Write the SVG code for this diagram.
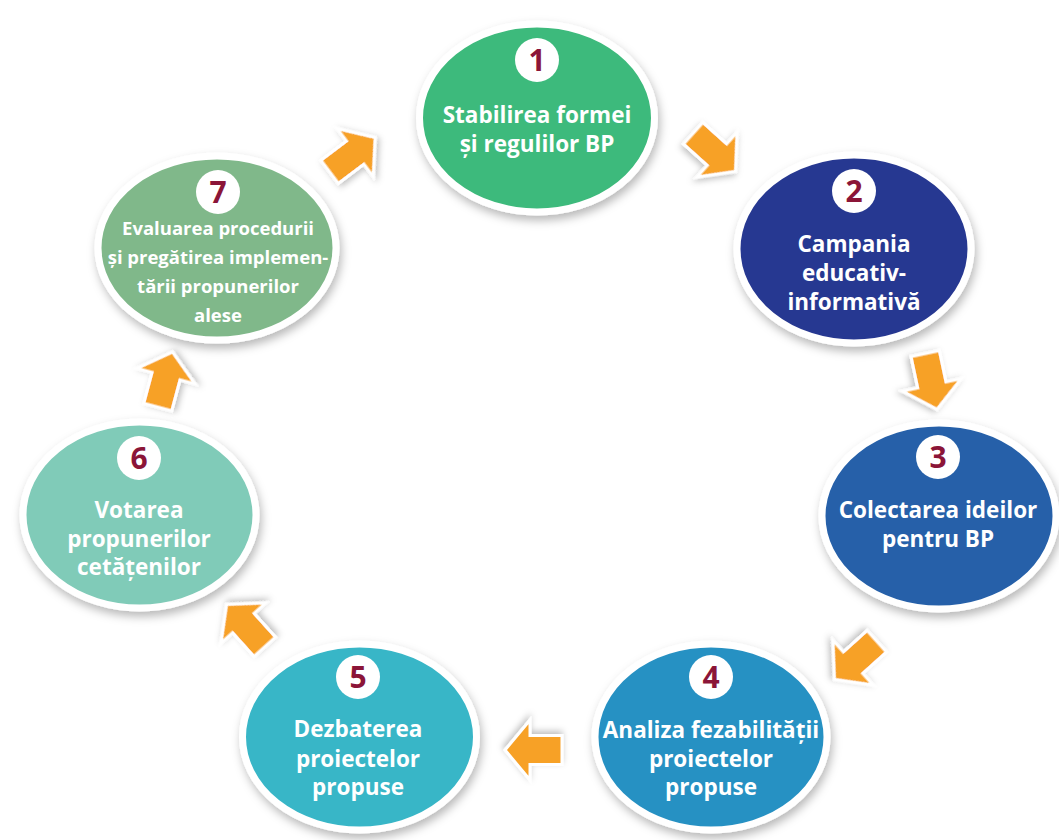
<svg xmlns="http://www.w3.org/2000/svg" width="1059" height="840" viewBox="0 0 1059 840">
<defs>
<filter id="sh" x="-20%" y="-20%" width="140%" height="150%">
<feDropShadow dx="2" dy="5" stdDeviation="5" flood-color="#000" flood-opacity="0.28"/>
</filter>
<filter id="ash" x="-40%" y="-40%" width="180%" height="180%">
<feDropShadow dx="1" dy="3" stdDeviation="3" flood-color="#000" flood-opacity="0.25"/>
</filter>
<path id="arr" d="M-28,-14.5 L4,-14.5 L4,-30 L29,0 L4,30 L4,14.5 L-28,14.5 Z"/>
</defs>
<style>
.ring{stroke:#fff;stroke-width:7;filter:url(#sh)}
.badge{fill:#fff}
.num{font-family:"Open Sans","Noto Sans",sans-serif;font-weight:700;font-size:30px;fill:#8b1538;text-anchor:middle}
.lbl{font-family:"Open Sans","Noto Sans",sans-serif;font-weight:700;font-size:22.5px;fill:#fff;text-anchor:middle}
.sm{font-size:18.5px}
.arrow{fill:#f7a128;stroke:#fff;stroke-width:3;stroke-linejoin:miter;filter:url(#ash)}
</style>
<rect width="1059" height="840" fill="#fff"/>

<g id="connectors">
<use href="#arr" class="arrow" transform="translate(352,155) rotate(-37)"/>
<use href="#arr" class="arrow" transform="translate(714,152) rotate(42)"/>
<use href="#arr" class="arrow" transform="translate(931,381) rotate(78)"/>
<use href="#arr" class="arrow" transform="translate(856,660) rotate(138)"/>
<use href="#arr" class="arrow" transform="translate(534,750) rotate(180)"/>
<use href="#arr" class="arrow" transform="translate(246,626) rotate(-132)"/>
<use href="#arr" class="arrow" transform="translate(165,380) rotate(-75)"/>
</g>

<g id="node1">
<ellipse class="ring" cx="537" cy="118" rx="117.5" ry="94" fill="#3dba7b"/>
<circle class="badge" cx="537" cy="60" r="22"/>
<text class="num" x="537" y="71">1</text>
<text class="lbl" x="537" y="123">Stabilirea formei</text>
<text class="lbl" x="537" y="152">și regulilor BP</text>
</g>

<g id="node2">
<ellipse class="ring" cx="854" cy="249" rx="117" ry="94" fill="#283891"/>
<circle class="badge" cx="854" cy="191" r="22"/>
<text class="num" x="854" y="202">2</text>
<text class="lbl" x="854" y="252">Campania</text>
<text class="lbl" x="854" y="281">educativ-</text>
<text class="lbl" x="854" y="310">informativă</text>
</g>

<g id="node3">
<ellipse class="ring" cx="939" cy="516" rx="117" ry="93" fill="#2560a9"/>
<circle class="badge" cx="938" cy="457" r="22"/>
<text class="num" x="938" y="468">3</text>
<text class="lbl" x="938" y="518">Colectarea ideilor</text>
<text class="lbl" x="938" y="547">pentru BP</text>
</g>

<g id="node4">
<ellipse class="ring" cx="711" cy="737" rx="116" ry="93" fill="#2891c3"/>
<circle class="badge" cx="711" cy="677" r="22"/>
<text class="num" x="711" y="688">4</text>
<text class="lbl" x="711" y="738">Analiza fezabilității</text>
<text class="lbl" x="711" y="767">proiectelor</text>
<text class="lbl" x="711" y="795">propuse</text>
</g>

<g id="node5">
<ellipse class="ring" cx="359.5" cy="737" rx="117" ry="93" fill="#38b6c7"/>
<circle class="badge" cx="358" cy="677" r="22"/>
<text class="num" x="358" y="688">5</text>
<text class="lbl" x="358" y="737">Dezbaterea</text>
<text class="lbl" x="358" y="767">proiectelor</text>
<text class="lbl" x="358" y="795">propuse</text>
</g>

<g id="node6">
<ellipse class="ring" cx="139.5" cy="515" rx="116.5" ry="93" fill="#80cbb8"/>
<circle class="badge" cx="139" cy="458" r="22"/>
<text class="num" x="139" y="469">6</text>
<text class="lbl" x="139" y="518">Votarea</text>
<text class="lbl" x="139" y="547">propunerilor</text>
<text class="lbl" x="139" y="575">cetățenilor</text>
</g>

<g id="node7">
<ellipse class="ring" cx="217" cy="248" rx="119" ry="92" fill="#80b88a"/>
<circle class="badge" cx="218" cy="192" r="22"/>
<text class="num" x="218" y="203">7</text>
<text class="lbl sm" x="218" y="235">Evaluarea procedurii</text>
<text class="lbl sm" x="218" y="264">și pregătirea implemen-</text>
<text class="lbl sm" x="218" y="293">tării propunerilor</text>
<text class="lbl sm" x="218" y="322">alese</text>
</g>
</svg>
